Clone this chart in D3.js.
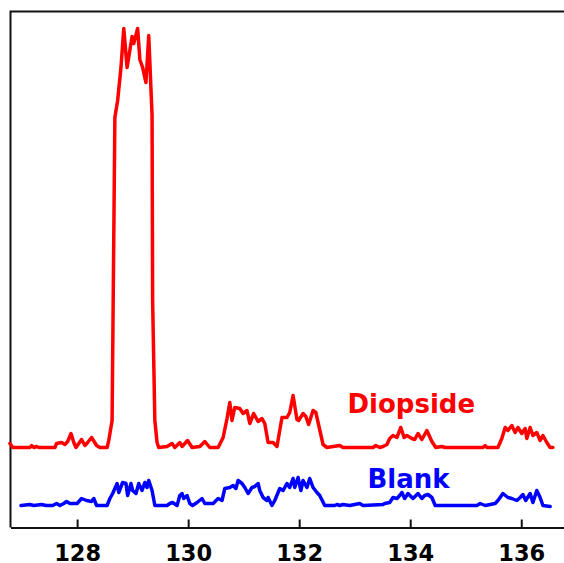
<!DOCTYPE html>
<html>
<head>
<meta charset="utf-8">
<script src="https://cdn.jsdelivr.net/npm/d3@7"></script>
<style>
  html, body { margin: 0; padding: 0; background: #fff; }
  .chart svg { display: block; }
  .tick-label { font-family: "DejaVu Sans", sans-serif; font-weight: bold; font-size: 22.5px; }
  .series-label { font-family: "DejaVu Sans", sans-serif; font-weight: bold; font-size: 26px; }
</style>
</head>
<body>
<div class="chart"></div>
<script>

// m/z values and intensities (arbitrary units)
const DIOPSIDE_MZ = [
  126.79, 126.84, 127.15, 127.18, 127.22, 127.27, 127.31, 127.60, 127.63, 127.72,
  127.78, 127.83, 127.89, 127.94, 127.98, 128.03, 128.08, 128.14, 128.19, 128.26,
  128.35, 128.41, 128.54, 128.57, 128.63, 128.68, 128.73, 128.79, 128.84, 128.90,
  128.99, 129.02, 129.09, 129.13, 129.18, 129.24, 129.29, 129.35, 129.36, 129.40,
  129.44, 129.47, 129.62, 129.71, 129.76, 129.85, 129.89, 129.99, 130.07, 130.21,
  130.30, 130.39, 130.54, 130.63, 130.70, 130.75, 130.79, 130.84, 130.93, 130.99,
  131.06, 131.11, 131.18, 131.26, 131.33, 131.38, 131.44, 131.53, 131.60, 131.69,
  131.78, 131.83, 131.89, 131.96, 131.99, 132.07, 132.12, 132.17, 132.25, 132.30,
  132.43, 132.50, 132.73, 132.79, 133.33, 133.38, 133.45, 133.51, 133.58, 133.63,
  133.69, 133.76, 133.83, 133.89, 133.94, 134.03, 134.08, 134.14, 134.21, 134.30,
  134.39, 134.46, 134.57, 134.63, 135.31, 135.35, 135.38, 135.58, 135.65, 135.71,
  135.76, 135.83, 135.89, 135.94, 136.01, 136.07, 136.10, 136.16, 136.21, 136.28,
  136.34, 136.39, 136.46, 136.52, 136.57
];
const DIOPSIDE_INT = [
  84, 80, 80, 82, 80, 81, 80, 80, 84, 85,
  83, 86, 94, 85, 80, 84, 88, 82, 85, 90,
  82, 80, 80, 87, 107, 410, 427, 460, 499, 460,
  491, 484, 499, 468, 460, 445, 492, 412, 227, 107,
  85, 80, 81, 84, 80, 85, 81, 87, 80, 81,
  86, 80, 80, 90, 109, 125, 107, 120, 119, 114,
  117, 104, 114, 106, 109, 104, 85, 85, 81, 110,
  110, 115, 132, 108, 107, 114, 111, 103, 117, 115,
  83, 80, 82, 80, 80, 82, 80, 81, 83, 89,
  92, 90, 100, 90, 92, 89, 88, 94, 88, 97,
  86, 80, 81, 80, 80, 82, 80, 80, 89, 100,
  97, 102, 95, 100, 94, 99, 89, 100, 92, 95,
  87, 92, 85, 80, 80
];

const BLANK_MZ = [
  126.99, 127.15, 127.22, 127.36, 127.44, 127.56, 127.63, 127.69, 127.76, 127.81,
  127.87, 128.00, 128.08, 128.17, 128.26, 128.30, 128.35, 128.54, 128.59, 128.64,
  128.72, 128.75, 128.82, 128.88, 128.91, 128.97, 129.00, 129.06, 129.11, 129.17,
  129.22, 129.26, 129.29, 129.35, 129.40, 129.62, 129.67, 129.72, 129.80, 129.85,
  129.89, 129.92, 129.98, 130.03, 130.08, 130.16, 130.25, 130.30, 130.45, 130.54,
  130.61, 130.66, 130.75, 130.81, 130.86, 130.90, 130.97, 131.02, 131.08, 131.15,
  131.20, 131.26, 131.29, 131.35, 131.42, 131.44, 131.51, 131.56, 131.65, 131.71,
  131.78, 131.83, 131.89, 131.92, 131.98, 132.03, 132.07, 132.14, 132.19, 132.25,
  132.32, 132.37, 132.46, 132.64, 132.68, 132.73, 132.79, 132.91, 133.09, 133.15,
  133.51, 133.54, 133.63, 133.69, 133.76, 133.81, 133.85, 133.90, 133.96, 134.05,
  134.14, 134.21, 134.26, 134.32, 134.39, 134.45, 135.20, 135.26, 135.35, 135.44,
  135.53, 135.58, 135.67, 135.76, 135.83, 135.92, 135.98, 136.03, 136.08, 136.16,
  136.21, 136.28, 136.34, 136.39, 136.52
];
const BLANK_INT = [
  22, 23, 22, 23, 22, 22, 24, 22, 24, 26,
  24, 24, 29, 27, 26, 29, 22, 22, 29, 34,
  44, 35, 45, 44, 32, 44, 37, 34, 44, 37,
  45, 40, 47, 37, 22, 22, 24, 25, 22, 32,
  34, 29, 32, 24, 22, 25, 29, 24, 24, 29,
  27, 39, 40, 42, 39, 47, 44, 40, 34, 40,
  41, 44, 37, 30, 27, 30, 22, 27, 39, 37,
  44, 40, 49, 40, 50, 37, 47, 40, 49, 40,
  35, 32, 22, 22, 23, 22, 23, 22, 24, 22,
  23, 24, 25, 30, 29, 32, 35, 29, 34, 29,
  34, 29, 32, 33, 30, 22, 22, 24, 22, 23,
  24, 27, 34, 30, 29, 27, 30, 33, 27, 34,
  25, 37, 30, 22, 21
];

const X_TICKS = [128, 130, 132, 134, 136];
const SERIES_NAMES = ["Diopside", "Blank"];
const SERIES_COLORS = ["#ff0000", "#0000ff"];
// label anchor (m/z, intensity)
const LABEL_MZ = [132.87, 133.23];
const LABEL_INT = [115, 40];

const FRAME_WIDTH = 564;
const FRAME_HEIGHT = 563;
const PLOT = {left: 10.5, right: 564, top: 11.5, bottom: 527.5};

const svg = d3.select(".chart")
  .append("svg")
  .attr("width", FRAME_WIDTH)
  .attr("height", FRAME_HEIGHT);

const X_SCALE = d3.scaleLinear()
  .domain([126.8, 136.77])
  .range([PLOT.left, PLOT.right]);

const Y_SCALE = d3.scaleLinear()
  .domain([0, 516])
  .range([PLOT.bottom, PLOT.top]);

// frame (left + top), no right edge visible
svg.append("path")
  .attr("d", "M" + PLOT.left + "," + PLOT.bottom + "V" + PLOT.top + "H" + (FRAME_WIDTH + 5))
  .attr("fill", "none")
  .attr("stroke", "#111")
  .attr("stroke-width", 2);

// bottom axis with inward ticks
const xAxis = svg.append("g")
  .attr("transform", "translate(0," + PLOT.bottom + ")")
  .call(d3.axisBottom(X_SCALE).tickValues(X_TICKS).tickSizeInner(-8).tickSizeOuter(0).tickPadding(26).tickFormat(d3.format("d")));

xAxis.select(".domain")
  .attr("stroke", "#111")
  .attr("stroke-width", 2);
xAxis.selectAll(".tick line")
  .attr("stroke", "#111")
  .attr("stroke-width", 2);
xAxis.selectAll(".tick text")
  .attr("class", "tick-label")
  .attr("fill", "#000")
  .attr("dy", null)
  .attr("y", 33)
  .style("font-family", "'DejaVu Sans', sans-serif")
  .style("font-weight", "bold")
  .style("font-size", "22.5px");

const line = d3.line()
  .x((d) => X_SCALE(d[0]))
  .y((d) => Y_SCALE(d[1]));

const SERIES = [
  d3.zip(DIOPSIDE_MZ, DIOPSIDE_INT),
  d3.zip(BLANK_MZ, BLANK_INT)
];

svg.selectAll(".spectrum")
  .data(SERIES)
  .enter()
  .append("path")
    .attr("class", "spectrum")
    .attr("d", line)
    .attr("fill", "none")
    .attr("stroke", (d, i) => SERIES_COLORS[i])
    .attr("stroke-width", 3.5)
    .attr("stroke-linejoin", "round")
    .attr("stroke-linecap", "round");

svg.selectAll(".series-label")
  .data(SERIES_NAMES)
  .enter()
  .append("text")
    .attr("class", "series-label")
    .attr("x", (d, i) => X_SCALE(LABEL_MZ[i]))
    .attr("y", (d, i) => Y_SCALE(LABEL_INT[i]))
    .attr("fill", (d, i) => SERIES_COLORS[i])
    .text((d) => d);

</script>
</body>
</html>
